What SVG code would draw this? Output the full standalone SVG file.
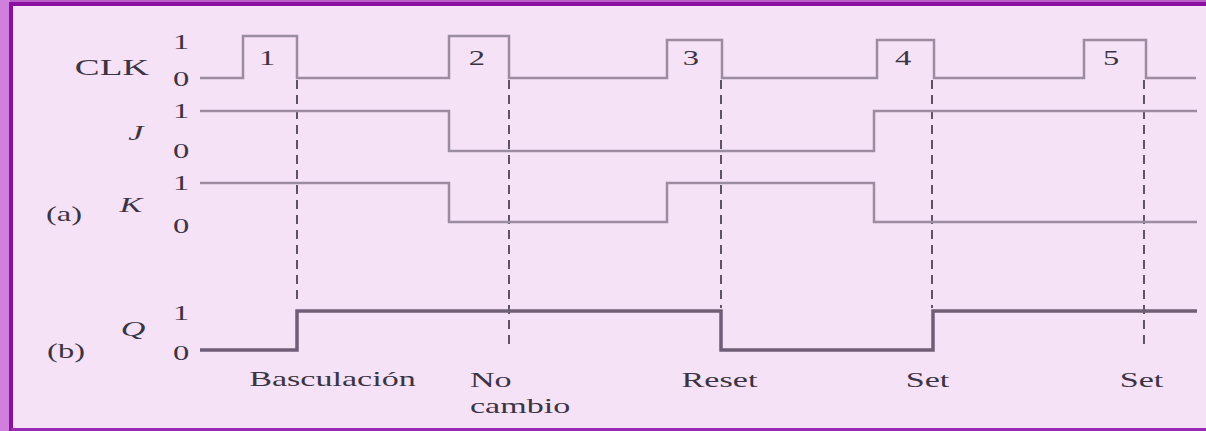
<svg xmlns="http://www.w3.org/2000/svg" width="1206" height="431" viewBox="0 0 1206 431">
<style>
.sig{fill:none;stroke:#9c8ca2;stroke-width:2.5;stroke-linejoin:miter}
.q{fill:none;stroke:#6e5e76;stroke-width:3.5}
.dash{fill:none;stroke:#3a3040;stroke-width:1.6;stroke-dasharray:9 6}
text{font-family:"Liberation Serif","Times New Roman",serif;fill:#3c3444;font-size:21px}
.w{font-size:22px}
.it{font-style:italic}
.m{text-anchor:middle}
</style>
<rect x="0" y="0" width="1206" height="431" fill="#f5e2f6"/>
<rect x="0" y="0" width="10" height="431" fill="#d07fdc"/>
<rect x="10" y="0" width="1196" height="2" fill="#b860c8"/>
<path d="M11,431 V4 H1206" fill="none" stroke="#8a10a4" stroke-width="4"/>
<line x1="11" y1="429.5" x2="1206" y2="429.5" stroke="#9a2ab4" stroke-width="3"/>
<g id="connectors">
<path class="dash" d="M297,80 V303 M509,80 V350 M721,80 V308 M932,80 V308 M1144,80 V350"/>
</g>
<g id="clk"><path class="sig" d="M200,78 H243 V36 H297 V78 H449 V36 H509 V78 H667 V40 H722 V78 H877 V40 H934 V78 H1084 V40 H1146 V78 H1196"/></g>
<g id="j"><path class="sig" d="M200,111 H449 V151 H874 V111 H1197"/></g>
<g id="k"><path class="sig" d="M200,183 H449 V222 H667 V183 H874 V222 H1197"/></g>
<g id="q"><path class="q" d="M200,350 H297 V311 H721 V350 H933 V311 H1197"/></g>
<g id="labels" transform="scale(1.55 1)">
<text x="72.3" y="75" class="m" style="font-size:24px">CLK</text>
<text x="116.8" y="49" class="m">1</text>
<text x="116.8" y="86" class="m">0</text>
<text x="116.8" y="118" class="m">1</text>
<text x="116.8" y="158" class="m">0</text>
<text x="116.8" y="190" class="m">1</text>
<text x="116.8" y="233" class="m">0</text>
<text x="116.8" y="320" class="m">1</text>
<text x="116.8" y="360" class="m">0</text>
<text x="87.7" y="140" class="m it w">J</text>
<text x="84.5" y="212" class="m it w">K</text>
<text x="85.8" y="336" class="m it w">Q</text>
<text x="41.3" y="221" class="m">(a)</text>
<text x="42.6" y="358" class="m">(b)</text>
<text x="172.3" y="65" class="m">1</text>
<text x="307.7" y="65" class="m">2</text>
<text x="445.8" y="65" class="m">3</text>
<text x="582.6" y="65" class="m">4</text>
<text x="716.8" y="65" class="m">5</text>
<text x="214.5" y="386" class="m w">Basculación</text>
<text x="303.2" y="387" class="w">No</text>
<text x="303.2" y="413" class="w">cambio</text>
<text x="464.2" y="387" class="m w">Reset</text>
<text x="598.4" y="387" class="m w">Set</text>
<text x="736.5" y="387" class="m w">Set</text>
</g>
</svg>
